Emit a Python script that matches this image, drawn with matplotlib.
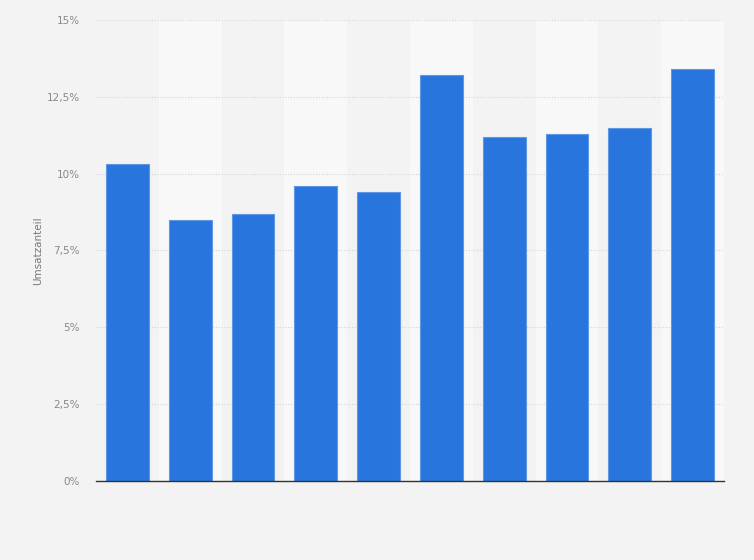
import matplotlib
matplotlib.use("Agg")
import matplotlib.pyplot as plt
from matplotlib.ticker import FuncFormatter

# Umsatzanteil je Kategorie (in %)
categories = ["1", "2", "3", "4", "5", "6", "7", "8", "9", "10"]
shares = [10.3, 8.5, 8.7, 9.6, 9.4, 13.2, 11.2, 11.3, 11.5, 13.4]
yticks = [0, 2.5, 5, 7.5, 10, 12.5, 15]

fig = plt.figure(figsize=(7.54, 5.6), dpi=100, facecolor="#f3f3f3")
ax = fig.add_axes([0.1273, 0.1411, 0.8329, 0.8232])
ax.set_facecolor("#f3f3f3")

x = list(range(len(categories)))

# abwechselnde Spaltenhintergruende
for i in x:
    if i % 2 == 1:
        ax.axvspan(i - 0.5, i + 0.5, color="#f8f8f8", zorder=0, lw=0)

ax.bar(x, shares, width=0.68, color="#2876dd", edgecolor="#5d97e6",
       linewidth=0.8, zorder=3)

ax.set_xlim(-0.5, len(categories) - 0.5)
ax.set_ylim(0, 15)
ax.set_yticks(yticks)
ax.yaxis.set_major_formatter(FuncFormatter(
    lambda v, p: ("%g" % v).replace(".", ",") + "%"))
ax.grid(axis="y", color="#d5d5d5", linestyle=(0, (1, 1.5)), linewidth=0.8, zorder=1)
ax.set_xticks([])

for s in ["top", "right", "left"]:
    ax.spines[s].set_visible(False)
ax.spines["bottom"].set_color("#333333")
ax.spines["bottom"].set_linewidth(1.0)
ax.spines["bottom"].set_zorder(4)

ax.tick_params(axis="y", length=0, pad=11.5, labelsize=7.5, labelcolor="#888888")
ax.set_ylabel("Umsatzanteil", fontsize=7.5, color="#777777", labelpad=3)

fig.savefig("out.png", dpi=100, facecolor=fig.get_facecolor())
